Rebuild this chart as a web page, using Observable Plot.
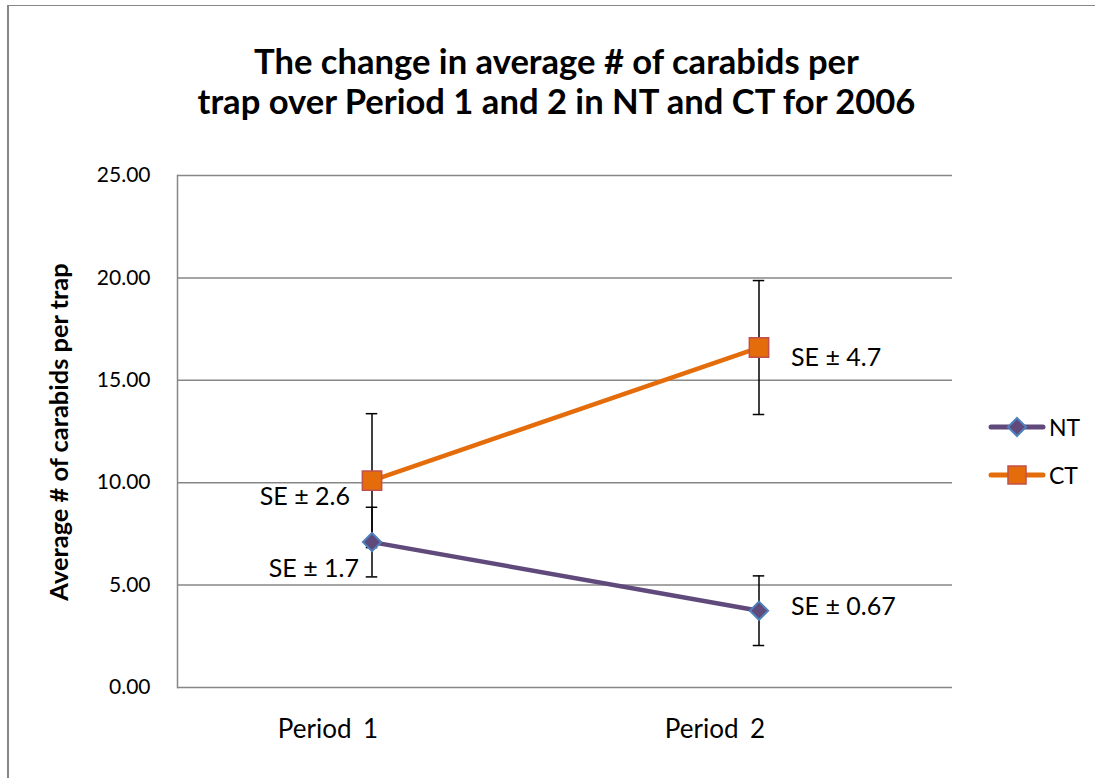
<!DOCTYPE html>
<html><head><meta charset="utf-8">
<script src="https://cdn.jsdelivr.net/npm/d3@7"></script>
<script src="https://cdn.jsdelivr.net/npm/@observablehq/plot@0.6"></script>
<style>
body{margin:0;background:#fff;}
#wrap{position:relative;width:1095px;height:778px;overflow:hidden;background:#fff;font-family:Lato,"Open Sans",sans-serif;color:#000}
#border{position:absolute;left:7px;top:5px;right:-10px;bottom:-10px;border-top:1.5px solid #878787;border-left:2px solid #878787}
#chart{position:absolute;left:0;top:0}
#title{position:absolute;left:0;width:1113px;top:41px;text-align:center;font-weight:bold;font-size:34.6px;line-height:40px}
#ytitle{position:absolute;left:58px;top:432px;transform:translate(-50%,-50%) rotate(-90deg);white-space:nowrap;font-weight:bold;font-size:25.4px}
#legend{position:absolute;left:985px;top:403px}
.lg{display:flex;align-items:center;height:48px;font-size:23px}
</style></head><body>
<div id="wrap">
 <div id="border"></div>
 <div id="chart"></div>
 <div id="title">The change in average # of carabids per<br>trap over Period 1 and 2 in NT and CT for 2006</div>
 <div id="ytitle">Average # of carabids per trap</div>
 <div id="legend"></div>
</div>
<script>
// ---- data ----
const periods = ["Period 1", "Period 2"];
const series = ["NT", "CT"];
const ntValues = [7.1, 3.75];
const ctValues = [10.1, 16.6];
const ntError = [1.7, 1.7];
const ctError = [3.27, 3.27];
const ntLabels = ["SE ± 1.7", "SE ± 0.67"];
const ctLabels = ["SE ± 2.6", "SE ± 4.7"];
const yTicks = [0, 5, 10, 15, 20, 25];

// ---- styles ----
const colors = {NT: "#604A7B", CT: "#E46C0A"};
const markerStroke = {NT: "#4F81BD", CT: "#C0504D"};
const labelPos = {
  "NT|Period 1": {textAnchor: "end", dx: -13, dy: 27},
  "NT|Period 2": {textAnchor: "start", dx: 32, dy: -4},
  "CT|Period 1": {textAnchor: "end", dx: -22, dy: 16},
  "CT|Period 2": {textAnchor: "start", dx: 32, dy: 10}
};

const table = {NT: [ntValues, ntError, ntLabels], CT: [ctValues, ctError, ctLabels]};
const rows = [];
for (const s of series) {
  const [v, e, l] = table[s];
  periods.forEach((p, i) => rows.push({series: s, period: p, value: v[i], lo: v[i] - e[i], hi: v[i] + e[i], label: l[i]}));
}

const W = 1095, H = 778, ML = 177, MR = 143, MT = 175, MB = 91;
const bw = (W - ML - MR) / periods.length;
const capInset = (bw - 12) / 2;
const font = "Lato, 'Open Sans', sans-serif";

const chart = Plot.plot({
  width: W, height: H, marginLeft: ML, marginRight: MR, marginTop: MT, marginBottom: MB,
  style: {fontFamily: font, fontSize: "21px", color: "#000", background: "transparent"},
  x: {type: "band", domain: periods, padding: 0, axis: null},
  y: {domain: [0, 25], axis: null},
  marks: [
    Plot.gridY(yTicks, {stroke: "#878787", strokeOpacity: 1, strokeWidth: 1.5}),
    Plot.frame({anchor: "left", stroke: "#878787", strokeWidth: 1.5}),
    Plot.axisY(yTicks, {tickSize: 0, tickPadding: 27, tickFormat: d => d.toFixed(2), fontSize: 21, label: null}),
    Plot.axisX(periods, {tickSize: 0, tickPadding: 32, dx: -44, fontSize: 26, label: null}),
    Plot.ruleX(rows, {x: "period", y1: "lo", y2: "hi", stroke: "#000", strokeWidth: 1.5}),
    Plot.tickY(rows, {x: "period", y: "hi", stroke: "#000", strokeWidth: 1.5, insetLeft: capInset, insetRight: capInset}),
    Plot.tickY(rows, {x: "period", y: "lo", stroke: "#000", strokeWidth: 1.5, insetLeft: capInset, insetRight: capInset}),
    ...series.map(s => Plot.line(rows.filter(r => r.series === s), {x: "period", y: "value", stroke: colors[s], strokeWidth: 4.5})),
    Plot.dot(rows.filter(r => r.series === "NT"), {x: "period", y: "value", symbol: "diamond2", r: 8.2, fill: colors.NT, stroke: markerStroke.NT, strokeWidth: 2}),
    Plot.dot(rows.filter(r => r.series === "CT"), {x: "period", y: "value", symbol: "square", r: 10.9, fill: colors.CT, stroke: markerStroke.CT, strokeWidth: 1.5}),
    ...rows.map(r => Plot.text([r], {x: "period", y: "value", text: "label", fontSize: 25, ...labelPos[r.series + "|" + r.period]}))
  ]
});
document.getElementById("chart").appendChild(chart);
// wider word spacing on category labels, as in the reference
d3.select(chart).selectAll("[aria-label='x-axis tick label'] text").style("word-spacing", "5px");

// legend
const legend = document.getElementById("legend");
for (const s of series) {
  const d = document.createElement("div");
  d.className = "lg";
  const sym = s === "NT"
    ? `<path d="M32,-9 L41,0 L32,9 L23,0 Z" fill="${colors.NT}" stroke="${markerStroke.NT}" stroke-width="2"/>`
    : `<rect x="23" y="-9" width="18" height="18" fill="${colors.CT}" stroke="${markerStroke.CT}" stroke-width="1.5"/>`;
  d.innerHTML = `<svg width="64" height="24" viewBox="0 -12 64 24"><line x1="6" x2="58" y1="0" y2="0" stroke="${colors[s]}" stroke-width="5" stroke-linecap="round"/>${sym}</svg><span>${s}</span>`;
  legend.appendChild(d);
}
</script>
</body></html>
